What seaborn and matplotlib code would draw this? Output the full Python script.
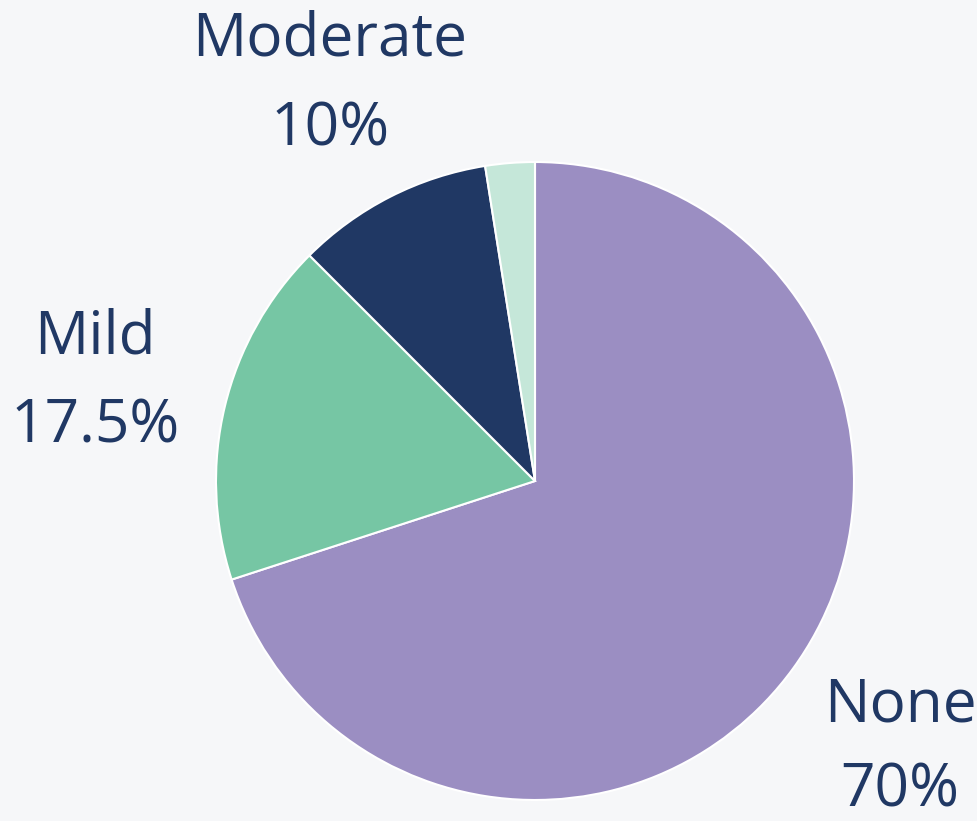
import matplotlib
matplotlib.use("Agg")
import matplotlib.pyplot as plt
import seaborn as sns

# Severity breakdown
categories = ["None", "Mild", "Moderate", "Severe"]
shares = [70.0, 17.5, 10.0, 2.5]
labelled = ["None", "Mild", "Moderate"]
slice_colors = ["#9b8ec2", "#76c6a4", "#203864", "#c5e7d9"]

sns.set_theme(style="white")
plt.rcParams["font.family"] = ["Open Sans", "DejaVu Sans"]

W, H = 977, 821
bg = "#f6f7f9"
ink = "#203864"

fig = plt.figure(figsize=(W / 100, H / 100), dpi=100, facecolor=bg)
ax = fig.add_axes([0, 0, 1, 1])
ax.set_facecolor(bg)

palette = sns.color_palette(slice_colors)
ax.pie(
    shares,
    colors=palette,
    startangle=90,
    counterclock=False,
    center=(535, H - 481),
    radius=319,
    wedgeprops=dict(edgecolor="white", linewidth=1.5),
)
ax.set_xlim(0, W)
ax.set_ylim(0, H)
ax.set_aspect("equal")
ax.axis("off")

# label positions (x centre, baseline of name, baseline of percentage)
label_pos = {
    "None": (900, H - 721, H - 806),
    "Mild": (95, H - 353, H - 442),
    "Moderate": (330, H - 55, H - 145),
}

def fmt(v):
    return f"{v:g}%"

for name in labelled:
    x, y1, y2 = label_pos[name]
    val = shares[categories.index(name)]
    ax.text(x, y1, name, ha="center", va="baseline", fontsize=43.5, color=ink)
    ax.text(x, y2, fmt(val), ha="center", va="baseline", fontsize=43.5, color=ink)

fig.savefig("out.png", dpi=100, facecolor=bg)
